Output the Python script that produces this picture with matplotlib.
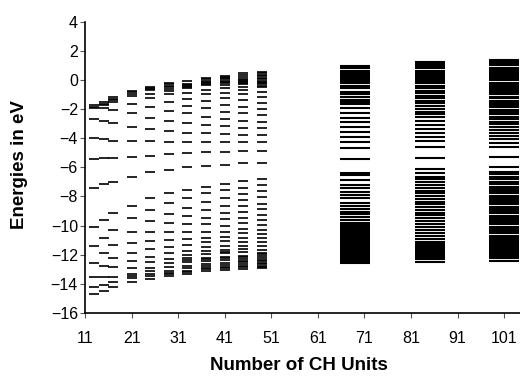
import numpy as np
import matplotlib
matplotlib.use("Agg")
import matplotlib.pyplot as plt

plt.rcParams['font.family'] = ['Liberation Sans', 'DejaVu Sans']

# orbital energies (eV) for each chain length
n_units = [13, 15, 17, 21, 25, 29, 33, 37, 41, 45, 49, 69, 85, 101]

levels_13 = [-1.72, -1.83, -1.95, -2.70, -3.96, -5.42, -7.39, -10.07, -11.37, -12.58, -13.50, -14.23, -14.71]
levels_15 = [-1.49, -1.62, -1.75, -1.95, -2.81, -4.07, -5.33, -7.14, -9.61, -10.82, -11.85, -12.77, -13.50,
             -14.07, -14.48]
levels_17 = [-1.20, -1.32, -1.40, -1.49, -2.06, -2.97, -4.16, -5.33, -6.98, -9.15, -10.32, -11.32, -12.24,
             -12.86, -13.50, -13.89, -14.23]
levels_21 = [-0.75, -0.85, -0.94, -1.10, -1.67, -2.29, -3.20, -4.17, -5.26, -6.63, -8.63, -9.49, -10.41,
             -11.21, -11.85, -12.42, -12.92, -13.31, -13.45, -13.61, -13.88]
levels_25 = [-0.46, -0.55, -0.64, -0.72, -0.95, -1.26, -1.83, -2.59, -3.38, -4.17, -5.20, -6.34, -8.12,
             -8.92, -9.68, -10.41, -11.05, -11.62, -12.13, -12.51, -12.88, -13.15, -13.30, -13.43, -13.66]
levels_29 = [-0.18, -0.30, -0.41, -0.50, -0.60, -0.73, -0.98, -1.49, -2.10, -2.81, -3.48, -4.26, -5.10,
             -6.18, -7.78, -8.42, -9.20, -9.84, -10.41, -10.98, -11.44, -11.85, -12.29, -12.58, -12.86,
             -13.11, -13.22, -13.34, -13.45]
levels_33 = [-0.05, -0.25, -0.32, -0.40, -0.48, -0.55, -0.87, -1.30, -1.76, -2.29, -2.97, -3.62, -4.23,
             -4.99, -5.99, -7.55, -8.12, -8.76, -9.33, -9.90, -10.41, -10.91, -11.32, -11.73, -12.00,
             -12.24, -12.38, -12.51, -12.74, -12.92, -13.11, -13.20, -13.29]
levels_37 = [0.12, 0.04, -0.05, -0.14, -0.23, -0.30, -0.36, -0.69, -0.98, -1.44, -1.94, -2.52, -3.09,
             -3.66, -4.23, -4.92, -5.90, -7.32, -7.78, -8.35, -8.92, -9.45, -9.90, -10.41, -10.82, -11.14,
             -11.44, -11.73, -11.96, -12.20, -12.31, -12.42, -12.65, -12.77, -12.88, -13.00, -13.11]
levels_41 = [0.30, 0.21, 0.12, 0.04, -0.05, -0.14, -0.23, -0.38, -0.57, -0.87, -1.26, -1.72, -2.18,
             -2.70, -3.16, -3.71, -4.23, -4.92, -5.83, -7.14, -7.55, -8.12, -8.63, -9.11, -9.54, -10.00,
             -10.41, -10.75, -11.05, -11.37, -11.67, -11.78, -11.90, -12.13, -12.24, -12.35, -12.58,
             -12.70, -12.81, -12.93, -13.04]
levels_45 = [0.46, 0.32, 0.18, 0.09, 0.00, -0.08, -0.16, -0.23, -0.30, -0.45, -0.69, -0.98, -1.37,
             -1.83, -2.29, -2.81, -3.32, -3.78, -4.23, -4.85, -5.72, -6.93, -7.39, -7.85, -8.24, -8.63,
             -9.04, -9.45, -9.84, -10.23, -10.52, -10.82, -11.10, -11.37, -11.60, -11.83, -12.06, -12.18,
             -12.29, -12.40, -12.51, -12.62, -12.74, -12.86, -12.97]
levels_49 = [0.57, 0.48, 0.34, 0.24, 0.12, 0.04, -0.05, -0.12, -0.18, -0.30, -0.40, -0.50, -0.84,
             -1.19, -1.60, -2.01, -2.40, -2.90, -3.32, -3.78, -4.28, -4.85, -5.68, -6.79, -7.20, -7.62,
             -8.01, -8.53, -8.87, -9.27, -9.61, -9.95, -10.30, -10.59, -10.86, -11.14, -11.41, -11.65,
             -11.87, -11.98, -12.10, -12.22, -12.33, -12.45, -12.56, -12.65, -12.74, -12.83, -12.92]
levels_69 = [0.96, 0.88, 0.80, 0.62, 0.53, 0.44, 0.35, 0.26, 0.17, 0.08, -0.05, -0.23, -0.41, -0.57,
             -0.80, -0.98, -1.14, -1.37, -1.49, -1.65, -1.94, -2.24, -2.59, -2.86, -3.20, -3.55, -3.89,
             -4.28, -4.69, -5.42, -6.36, -6.52, -6.86, -7.20, -7.43, -7.67, -7.89, -8.12, -8.42, -8.63,
             -8.85, -9.04, -9.22, -9.42, -9.61, -9.79, -9.95, -10.08, -10.20, -10.33, -10.45, -10.57,
             -10.70, -10.82, -10.93, -11.05, -11.16, -11.27, -11.38, -11.49, -11.60, -11.71, -11.82,
             -11.93, -12.04, -12.15, -12.27, -12.42, -12.58]
levels_85 = [1.26, 1.19, 1.11, 1.03, 0.95, 0.87, 0.79, 0.60, 0.52, 0.44, 0.36, 0.28, 0.20, 0.12, 0.05,
             -0.05, -0.23, -0.41, -0.57, -0.73, -0.91, -1.08, -1.26, -1.42, -1.60, -1.76, -1.99, -2.18,
             -2.33, -2.56, -2.79, -3.09, -3.36, -3.62, -3.93, -4.19, -4.62, -5.37, -6.13, -6.41, -6.63,
             -6.82, -7.02, -7.21, -7.39, -7.60, -7.78, -7.96, -8.15, -8.35, -8.53, -8.74, -8.92, -9.11,
             -9.29, -9.49, -9.68, -9.88, -10.07, -10.30, -10.48, -10.71, -10.93, -11.10, -11.16, -11.22,
             -11.28, -11.34, -11.40, -11.46, -11.52, -11.58, -11.64, -11.70, -11.76, -11.82, -11.88,
             -11.94, -12.00, -12.06, -12.12, -12.18, -12.24, -12.30, -12.47]
levels_101 = [1.37, 1.30, 1.22, 1.15, 1.07, 1.00, 0.83, 0.76, 0.68, 0.61, 0.53, 0.45, 0.38, 0.30, 0.23,
              0.12, 0.00, -0.18, -0.34, -0.46, -0.57, -0.69, -0.84, -0.98, -1.14, -1.26, -1.42, -1.60,
              -1.72, -1.87, -2.06, -2.18, -2.33, -2.52, -2.68, -2.86, -3.02, -3.20, -3.43, -3.62, -3.82,
              -4.05, -4.30, -4.62, -5.26, -5.99, -6.29, -6.45, -6.63, -6.79, -6.98, -7.14, -7.32, -7.48,
              -7.62, -7.78, -7.94, -8.08, -8.24, -8.39, -8.53, -8.70, -8.85, -8.99, -9.15, -9.31, -9.45,
              -9.61, -9.77, -9.90, -10.07, -10.23, -10.36, -10.52, -10.69, -10.87, -10.93, -10.98,
              -11.04, -11.09, -11.15, -11.20, -11.26, -11.31, -11.37, -11.42, -11.48, -11.53, -11.59,
              -11.64, -11.70, -11.75, -11.81, -11.86, -11.92, -11.97, -12.03, -12.08, -12.14, -12.24,
              -12.40]

all_levels = [levels_13, levels_15, levels_17, levels_21, levels_25, levels_29, levels_33,
              levels_37, levels_41, levels_45, levels_49, levels_69, levels_85, levels_101]

fig = plt.figure(figsize=(5.2, 3.83), dpi=100)
ax = fig.add_axes([85 / 520, 70 / 383, 435 / 520, 291.3 / 383])

# long chains get the wider dashes
for n, lv in zip(n_units, all_levels):
    wide = n > 60
    ax.plot(np.full(len(lv), n), lv, linestyle='none', marker='_',
            markersize=21.6 if wide else 7.9,
            markeredgewidth=1.5 if wide else 1.2, color='black')

ax.set_xlim(11, 104.4)
ax.set_ylim(-16, 4)
ax.set_xticks(np.arange(11, 102, 10))
ax.set_yticks(np.arange(-16, 5, 2))

for side in ['top', 'right']:
    ax.spines[side].set_visible(False)
for side in ['left', 'bottom']:
    ax.spines[side].set_linewidth(1.2)
    ax.spines[side].set_color('black')

ax.tick_params(axis='y', direction='out', length=3.6, width=0.8, pad=1.5, labelsize=11.5, color='#555555')
ax.tick_params(axis='x', direction='out', length=3.6, width=0.8, pad=9.5, labelsize=11.5, color='#555555')

fig.text(20 / 520, 1 - 165 / 383, 'Energies in eV', rotation=90, ha='center', va='center',
         fontsize=13.5, fontweight='bold')
fig.text(299 / 520, 1 - 365 / 383, 'Number of CH Units', ha='center', va='center',
         fontsize=13.5, fontweight='bold')

fig.savefig('out.png', dpi=100)
